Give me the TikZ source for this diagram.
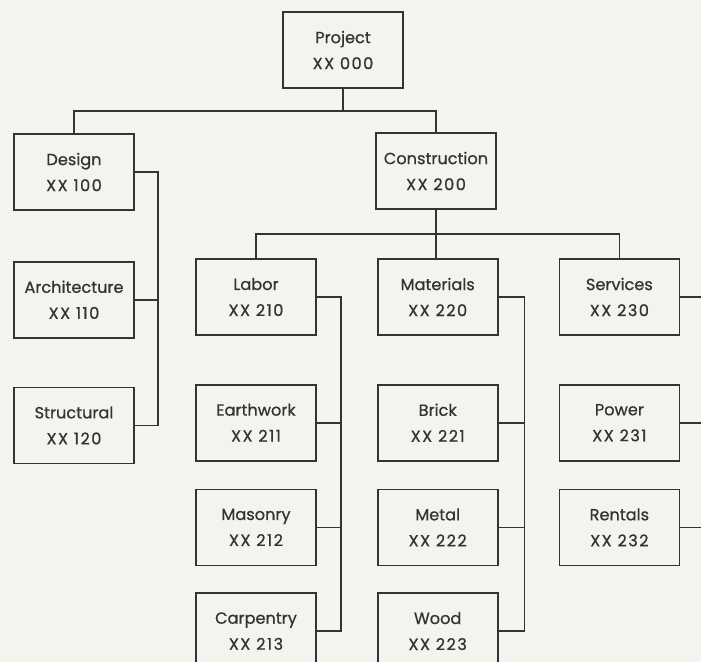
\documentclass[tikz,border=0pt]{standalone}
\usepackage{fontspec}
\setmainfont{Poppins}[FakeBold=0.7]
\usepackage{tikz}
\usetikzlibrary{positioning, calc}

\definecolor{paper}{HTML}{F4F3EE}
\definecolor{ink}{HTML}{333333}
\newcommand{\wbscode}[1]{{\addfontfeature{LetterSpace=9}#1}}

\begin{document}
\begin{tikzpicture}[
  x=0.25mm, y=-0.25mm,
  font=\fontsize{11.5}{18.5}\selectfont,
  box/.style={draw=ink, text=ink, minimum width=30mm, minimum height=19mm,
              align=center, line width=1.2pt},
  wire/.style={draw=ink, line width=1.2pt},
]
\fill[paper] (0,0) rectangle (701,662);
\useasboundingbox (0,0) rectangle (701,662);

% top levels
\node[box] (proj) at (343,50) {Project\\\wbscode{XX 000}};
\node[box] (design) at (74,172) {Design\\\wbscode{XX 100}};
\node[box] (constr) at (436,171) {Construction\\\wbscode{XX 200}};

% design branch
\node[box, below=12.5mm of design] (arch) {Architecture\\\wbscode{XX 110}};
\node[box, below=12mm of arch] (struc) {Structural\\\wbscode{XX 120}};

% construction branch
\node[box] (labor) at (256,297) {Labor\\\wbscode{XX 210}};
\node[box, right=15mm of labor] (mat) {Materials\\\wbscode{XX 220}};
\node[box, right=15mm of mat] (serv) {Services\\\wbscode{XX 230}};

\node[box, below=12mm of labor] (earth) {Earthwork\\\wbscode{XX 211}};
\node[box, below=6.75mm of earth] (mason) {Masonry\\\wbscode{XX 212}};
\node[box, below=6.5mm of mason] (carp) {Carpentry\\\wbscode{XX 213}};

\node[box, below=12mm of mat] (brick) {Brick\\\wbscode{XX 221}};
\node[box, below=6.75mm of brick] (metal) {Metal\\\wbscode{XX 222}};
\node[box, below=6.5mm of metal] (wood) {Wood\\\wbscode{XX 223}};

\node[box, below=12mm of serv] (power) {Power\\\wbscode{XX 231}};
\node[box, below=6.75mm of power] (rent) {Rentals\\\wbscode{XX 232}};

% connectors
\draw[wire] (proj.south) -- ++(0,-5.5mm) coordinate (j0);
\draw[wire] (design.north) |- (j0) -| (constr.north);
\draw[wire] (constr.south) -- ++(0,-6mm) coordinate (j1);
\draw[wire] (labor.north) |- (j1) -| (serv.north);
\draw[wire] (j1) -- (j1 |- mat.north);

\draw[wire] (design.east) -- ++(5.75mm,0) coordinate (jd) |- (struc.east);
\draw[wire] (arch.east) -- (arch.east -| jd);

\draw[wire] (labor.east) -- ++(6mm,0) coordinate (jl) |- (carp.east);
\draw[wire] (earth.east) -- (earth.east -| jl);
\draw[wire] (mason.east) -- (mason.east -| jl);

\draw[wire] (mat.east) -- ++(6.5mm,0) coordinate (jm) |- (wood.east);
\draw[wire] (brick.east) -- (brick.east -| jm);
\draw[wire] (metal.east) -- (metal.east -| jm);

\draw[wire] (serv.east) -- ++(5.9mm,0) coordinate (js) |- (rent.east);
\draw[wire] (power.east) -- (power.east -| js);
\end{tikzpicture}
\end{document}
